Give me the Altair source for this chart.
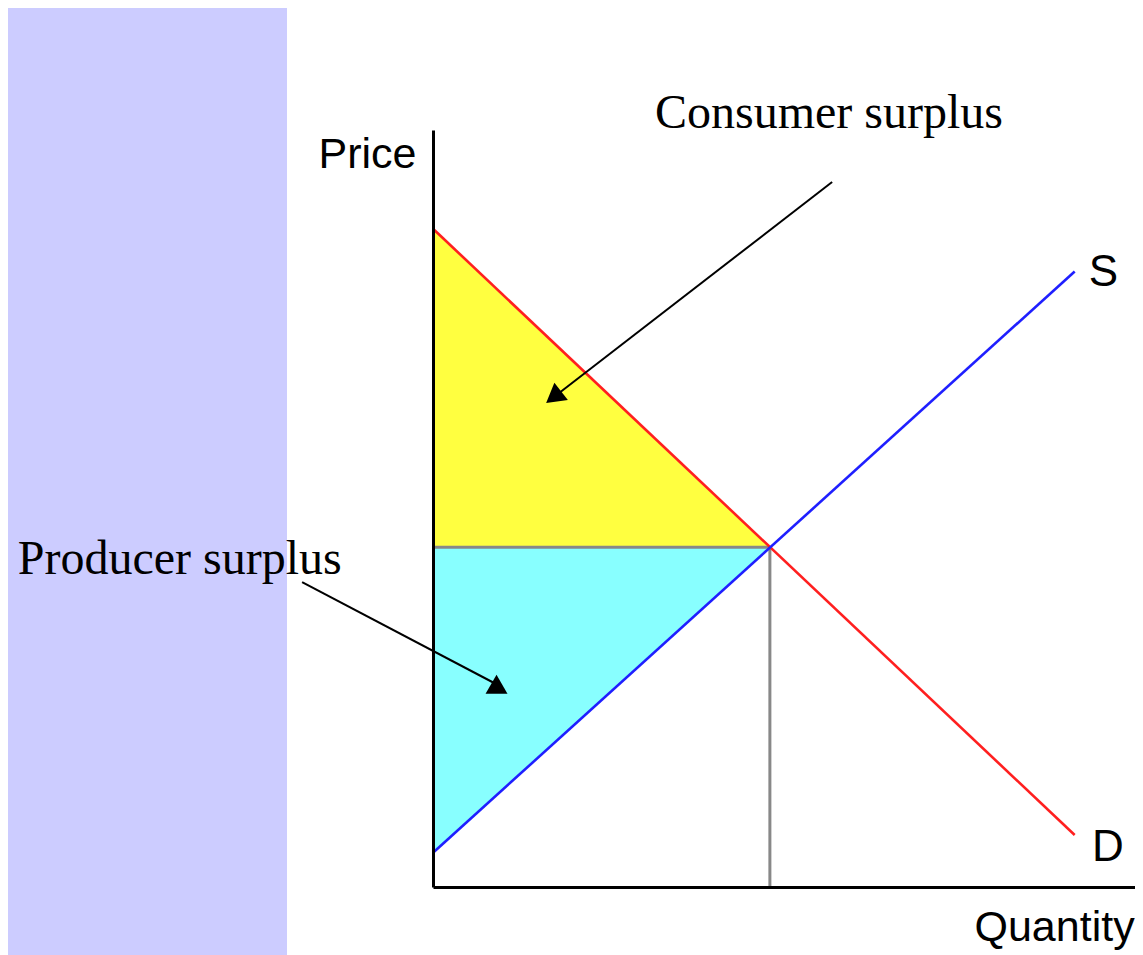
import altair as alt
import pandas as pd

# ---- data ----
demand_q = [0, 10]
demand_p = [10.0, 0.79]
supply_q = [0, 10]
supply_p = [0.52, 9.35]
eq_q = 5.25
eq_p = 5.16

curve_labels = ["S", "D"]
curve_label_q = [10.22, 10.27]
curve_label_p = [9.13, 0.39]

area_labels = ["Consumer surplus", "Producer surplus"]
area_label_q = [3.46, -6.47]
area_label_p = [11.53, 4.75]

arrow_start_q = [6.22, -2.04]
arrow_start_p = [10.71, 4.63]
arrow_end_q = [1.88, 0.99]
arrow_end_p = [7.44, 3.08]
arrow_head_angle = [232, 0]

# ---- scales / axes ----
xs = alt.Scale(domain=[0, 10.94], nice=False, zero=False)
ys = alt.Scale(domain=[0, 11.5], nice=False, zero=False)

x_axis = alt.Axis(title="Quantity", ticks=False, labels=False, grid=False,
                  domainColor="black", domainWidth=3, zindex=1,
                  titleX=541, titleY=53, titleAlign="left",
                  titleBaseline="alphabetic", titleFont="Liberation Sans",
                  titleFontSize=43, titleFontWeight="normal", titleColor="black")
y_axis = alt.Axis(title="Price", ticks=False, labels=False, grid=False,
                  domainColor="black", domainWidth=3, zindex=1,
                  titleX=-115, titleY=37, titleAngle=0, titleAlign="left",
                  titleBaseline="alphabetic", titleFont="Liberation Sans",
                  titleFontSize=43, titleFontWeight="normal", titleColor="black")


def X(field="q"):
    return alt.X(f"{field}:Q", scale=xs, axis=x_axis)


def Y(field="p"):
    return alt.Y(f"{field}:Q", scale=ys, axis=y_axis)


# ---- tables ----
demand_df = pd.DataFrame({"q": demand_q, "p": demand_p})
supply_df = pd.DataFrame({"q": supply_q, "p": supply_p})
cs_df = pd.DataFrame({"q": [0, eq_q], "p": [demand_p[0], eq_p], "p2": [eq_p, eq_p]})
ps_df = pd.DataFrame({"q": [0, eq_q], "p": [eq_p, eq_p], "p2": [supply_p[0], eq_p]})
hline_df = pd.DataFrame({"q": [0], "q2": [eq_q], "p": [eq_p]})
vline_df = pd.DataFrame({"q": [eq_q], "p": [0], "p2": [eq_p]})
curve_lab_df = pd.DataFrame({"q": curve_label_q, "p": curve_label_p, "t": curve_labels})
area_lab_df = pd.DataFrame({"q": area_label_q, "p": area_label_p, "t": area_labels})
arrow_df = pd.DataFrame({"q": arrow_start_q, "p": arrow_start_p,
                         "q2": arrow_end_q, "p2": arrow_end_p,
                         "angle": arrow_head_angle})

# ---- layers ----
panel = alt.Chart(pd.DataFrame({"k": [0]})).mark_rect(color="white").encode(
    x=alt.value(-146), x2=alt.value(730), y=alt.value(-140), y2=alt.value(840)
)

cs_area = alt.Chart(cs_df).mark_area(color="#ffff40", opacity=1).encode(
    x=X(), y=Y(), y2="p2:Q")
ps_area = alt.Chart(ps_df).mark_area(color="#88ffff", opacity=1).encode(
    x=X(), y=Y(), y2="p2:Q")

hline = alt.Chart(hline_df).mark_rule(color="#888888", strokeWidth=3).encode(
    x=X(), x2="q2:Q", y=Y())
vline = alt.Chart(vline_df).mark_rule(color="#888888", strokeWidth=3).encode(
    x=X(), y=Y(), y2="p2:Q")

demand = alt.Chart(demand_df).mark_line(color="#ff1f1f", strokeWidth=2.6).encode(
    x=X(), y=Y())
supply = alt.Chart(supply_df).mark_line(color="#1f1fff", strokeWidth=2.6).encode(
    x=X(), y=Y())

curve_text = alt.Chart(curve_lab_df).mark_text(
    align="left", baseline="alphabetic", font="Liberation Sans",
    fontSize=44, color="black").encode(x=X(), y=Y(), text="t:N")

area_text = alt.Chart(area_lab_df).mark_text(
    align="left", baseline="alphabetic", font="Liberation Serif",
    fontSize=48, color="black").encode(x=X(), y=Y(), text="t:N")

arrow_lines = alt.Chart(arrow_df).mark_rule(color="black", strokeWidth=2).encode(
    x=X(), y=Y(), x2="q2:Q", y2="p2:Q")
arrow_heads = alt.Chart(arrow_df).mark_point(
    shape="triangle-up", filled=True, color="black", opacity=1, size=480,
    strokeWidth=0).encode(
    x=alt.X("q2:Q", scale=xs, axis=x_axis),
    y=alt.Y("p2:Q", scale=ys, axis=y_axis),
    angle=alt.Angle("angle:Q", scale=None))

chart = alt.layer(
    panel, cs_area, ps_area, hline, vline, demand, supply,
    curve_text, area_text, arrow_lines, arrow_heads
).properties(
    width=702, height=757,
    autosize=alt.AutoSizeParams(type="none"),
    padding={"left": 425, "top": 122, "right": 0, "bottom": 68},
    background="#ccccff",
).configure_view(stroke=None)

chart.save("out.html", embed_options={"renderer": "svg", "actions": False})
